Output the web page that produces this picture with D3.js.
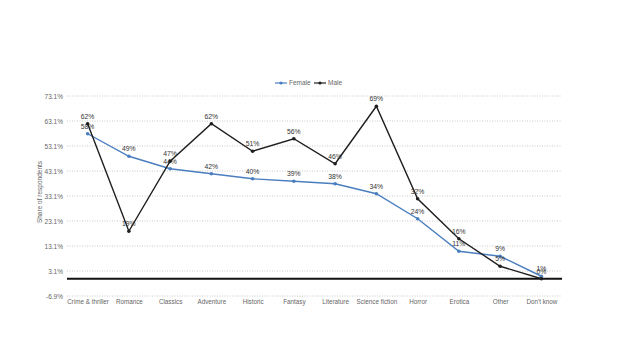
<!DOCTYPE html>
<html>
<head>
<meta charset="utf-8">
<script src="https://cdn.jsdelivr.net/npm/d3@7"></script>
<style>
  body { margin: 0; background: #fff; }
  svg { font-family: "Liberation Sans", Arial, sans-serif; }
</style>
</head>
<body>
<div></div>
<script>
const width = 624
const height = 351

// data
const categories = ["Crime & thriller", "Romance", "Classics", "Adventure", "Historic", "Fantasy",
  "Literature", "Science fiction", "Horror", "Erotica", "Other", "Don't know"]
const female = [58, 49, 44, 42, 40, 39, 38, 34, 24, 11, 9, 1]
const male = [62, 19, 47, 62, 51, 56, 46, 69, 32, 16, 5, 0]
const yTicks = [-6.9, 3.1, 13.1, 23.1, 33.1, 43.1, 53.1, 63.1, 73.1]

const left = 67, right = 562

const x = d3.scalePoint()
    .domain(categories)
    .range([left, right])
    .padding(0.5)

const y = d3.scaleLinear()
    .domain([-6.9, 73.1])
    .range([296, 96])

const svg = d3.select("div")
    .append("svg")
    .attr("width", width)
    .attr("height", height)

// dotted grid
svg.append("g").selectAll("line")
    .data(yTicks)
    .join("line")
    .attr("x1", left).attr("x2", right)
    .attr("y1", d => y(d)).attr("y2", d => y(d))
    .attr("stroke", "#c8c8c8")
    .attr("stroke-width", 1)
    .attr("stroke-dasharray", "1,1.5")

// y axis labels
const yAxis = svg.append("g")
    .attr("transform", `translate(${left},0)`)
    .call(d3.axisLeft(y).tickValues(yTicks).tickSize(0).tickPadding(4).tickFormat(d => d.toFixed(1) + "%"))
yAxis.select(".domain").remove()
yAxis.selectAll("text").attr("font-size", 6.5).attr("fill", "#666").attr("font-family", "Liberation Sans, Arial, sans-serif")

// zero line
svg.append("line")
    .attr("x1", left).attr("x2", right)
    .attr("y1", y(0)).attr("y2", y(0))
    .attr("stroke", "#111")
    .attr("stroke-width", 2)

// x axis labels
const xAxis = svg.append("g")
    .attr("transform", `translate(0,299)`)
    .call(d3.axisBottom(x).tickSize(0).tickPadding(1))
xAxis.select(".domain").remove()
xAxis.selectAll("text").attr("font-size", 6.3).attr("fill", "#666").attr("font-family", "Liberation Sans, Arial, sans-serif")

svg.append("text")
    .attr("transform", `translate(42,192) rotate(-90)`)
    .attr("text-anchor", "middle")
    .attr("font-size", 6.5)
    .attr("fill", "#666")
    .text("Share of respondents")

const series = [
  { name: "Female", values: female, color: "#4a7ec0" },
  { name: "Male", values: male, color: "#1e1e1e" }
]

series.forEach(s => {
  const line = d3.line()
      .x((d, i) => x(categories[i]))
      .y(d => y(d))
  svg.append("path")
      .datum(s.values)
      .attr("fill", "none")
      .attr("stroke", s.color)
      .attr("stroke-width", 1.4)
      .attr("d", line)
  svg.append("g").selectAll("circle")
      .data(s.values)
      .join("circle")
      .attr("cx", (d, i) => x(categories[i]))
      .attr("cy", d => y(d))
      .attr("r", 1.8)
      .attr("fill", s.color)
  svg.append("g").selectAll("text")
      .data(s.values)
      .join("text")
      .attr("x", (d, i) => x(categories[i]))
      .attr("y", d => y(d) - 5)
      .attr("text-anchor", "middle")
      .attr("font-size", 6.8)
      .attr("fill", "#333")
      .text(d => d + "%")
})

// legend
const legend = svg.append("g").attr("transform", "translate(275,83)")
series.forEach((s, i) => {
  const g = legend.append("g").attr("transform", `translate(${i * 39},0)`)
  g.append("line").attr("x1", 0).attr("x2", 12).attr("stroke", s.color).attr("stroke-width", 1.2)
  g.append("circle").attr("cx", 6).attr("r", 1.6).attr("fill", s.color)
  g.append("text").attr("x", 14).attr("y", 2.3).attr("font-size", 6.5).attr("fill", "#666").text(s.name)
})
</script>
</body>
</html>
